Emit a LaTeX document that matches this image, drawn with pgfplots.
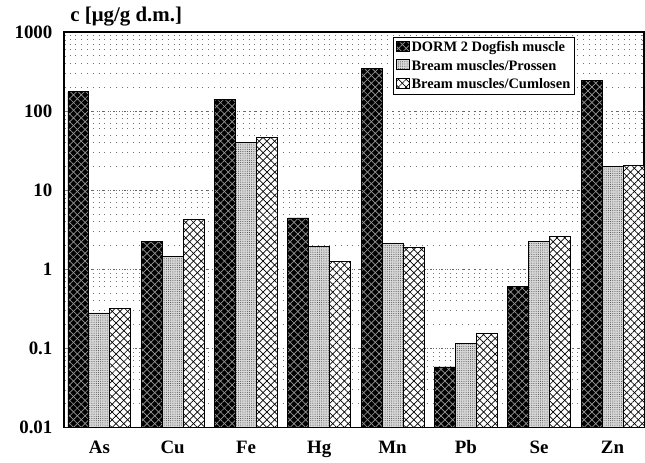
\documentclass[border=0pt]{standalone}
\usepackage{fontspec}
\setmainfont{Liberation Serif}
\usepackage{pgfplots}
\pgfplotsset{compat=1.18}
\usetikzlibrary{patterns.meta}

\pgfplotsset{
  dorm/.style={fill=black, draw=black, line width=0.8pt,
    postaction={pattern={Lines[angle=45,distance=5.5pt,line width=0.7pt]}, pattern color=gray!80},
    postaction={pattern={Lines[angle=-45,distance=5.5pt,line width=0.7pt]}, pattern color=gray!80}},
  prossen/.style={fill=black!15, draw=black, line width=0.8pt,
    postaction={pattern={Dots[distance=2.2pt,radius=0.5pt]}, pattern color=black!75}},
  cumlosen/.style={fill=white, draw=black, line width=0.8pt,
    postaction={pattern={Lines[angle=45,distance=5.5pt,line width=0.7pt]}, pattern color=black},
    postaction={pattern={Lines[angle=-45,distance=5.5pt,line width=0.7pt]}, pattern color=black}},
}

\begin{document}
\begin{tikzpicture}
\begin{semilogyaxis}[
    scale only axis,
    width=581bp, height=396bp,
    ybar=0pt, bar width=21bp,
    log origin=infty,
    xmin=0.516, xmax=8.43,
    ymin=0.01, ymax=1000,
    xtick={1,2,3,4,5,6,7,8},
    xticklabels={As,Cu,Fe,Hg,Mn,Pb,Se,Zn},
    ytick={0.01,0.1,1,10,100,1000},
    yticklabels={0.01,0.1,1,10,100,1000},
    major x tick style={draw=none},
    tick align=inside,
    major tick length=4pt, minor tick length=2pt,
    ymajorgrids, yminorgrids,
    major grid style={black!60, line width=0.6pt, dash pattern=on 1.5pt off 4pt},
    minor grid style={black!55, line width=0.6pt, dash pattern=on 0.8pt off 5pt},
    axis line style={line width=1.3pt},
    tick label style={font=\bfseries\fontsize{19}{22}\selectfont},
    yticklabel style={xshift=-8bp},
    xticklabel style={yshift=-10bp},
    title={c [μg/g d.m.]},
    title style={font=\bfseries\fontsize{21}{24}\selectfont, anchor=south west,
                 at={(rel axis cs:0,1)}, xshift=3bp, yshift=-4bp},
    legend style={at={(0.568,0.987)}, anchor=north west, draw=black, line width=0.8pt,
                  font=\bfseries\fontsize{14.5}{16}\selectfont,
                  row sep=3pt, inner xsep=2pt, inner ysep=2pt, fill=white},
    legend cell align=left,
    legend image code/.code={\draw[#1] (0pt,-4pt) rectangle (13pt,6pt);},
]
\addplot[dorm] coordinates {(1,175) (2,2.25) (3,140) (4,4.45) (5,348) (6,0.058) (7,0.6) (8,243)};
\addplot[prossen] coordinates {(1,0.28) (2,1.45) (3,40.5) (4,1.93) (5,2.1) (6,0.116) (7,2.25) (8,20)};
\addplot[cumlosen] coordinates {(1,0.318) (2,4.3) (3,46.8) (4,1.24) (5,1.86) (6,0.155) (7,2.6) (8,20.5)};
\legend{DORM 2 Dogfish muscle, Bream muscles/Prossen, Bream muscles/Cumlosen}
\end{semilogyaxis}
\path (current axis.south west) ++(-64bp,-35bp);
\path (current axis.north east) ++(1bp,32bp);
\end{tikzpicture}
\end{document}
